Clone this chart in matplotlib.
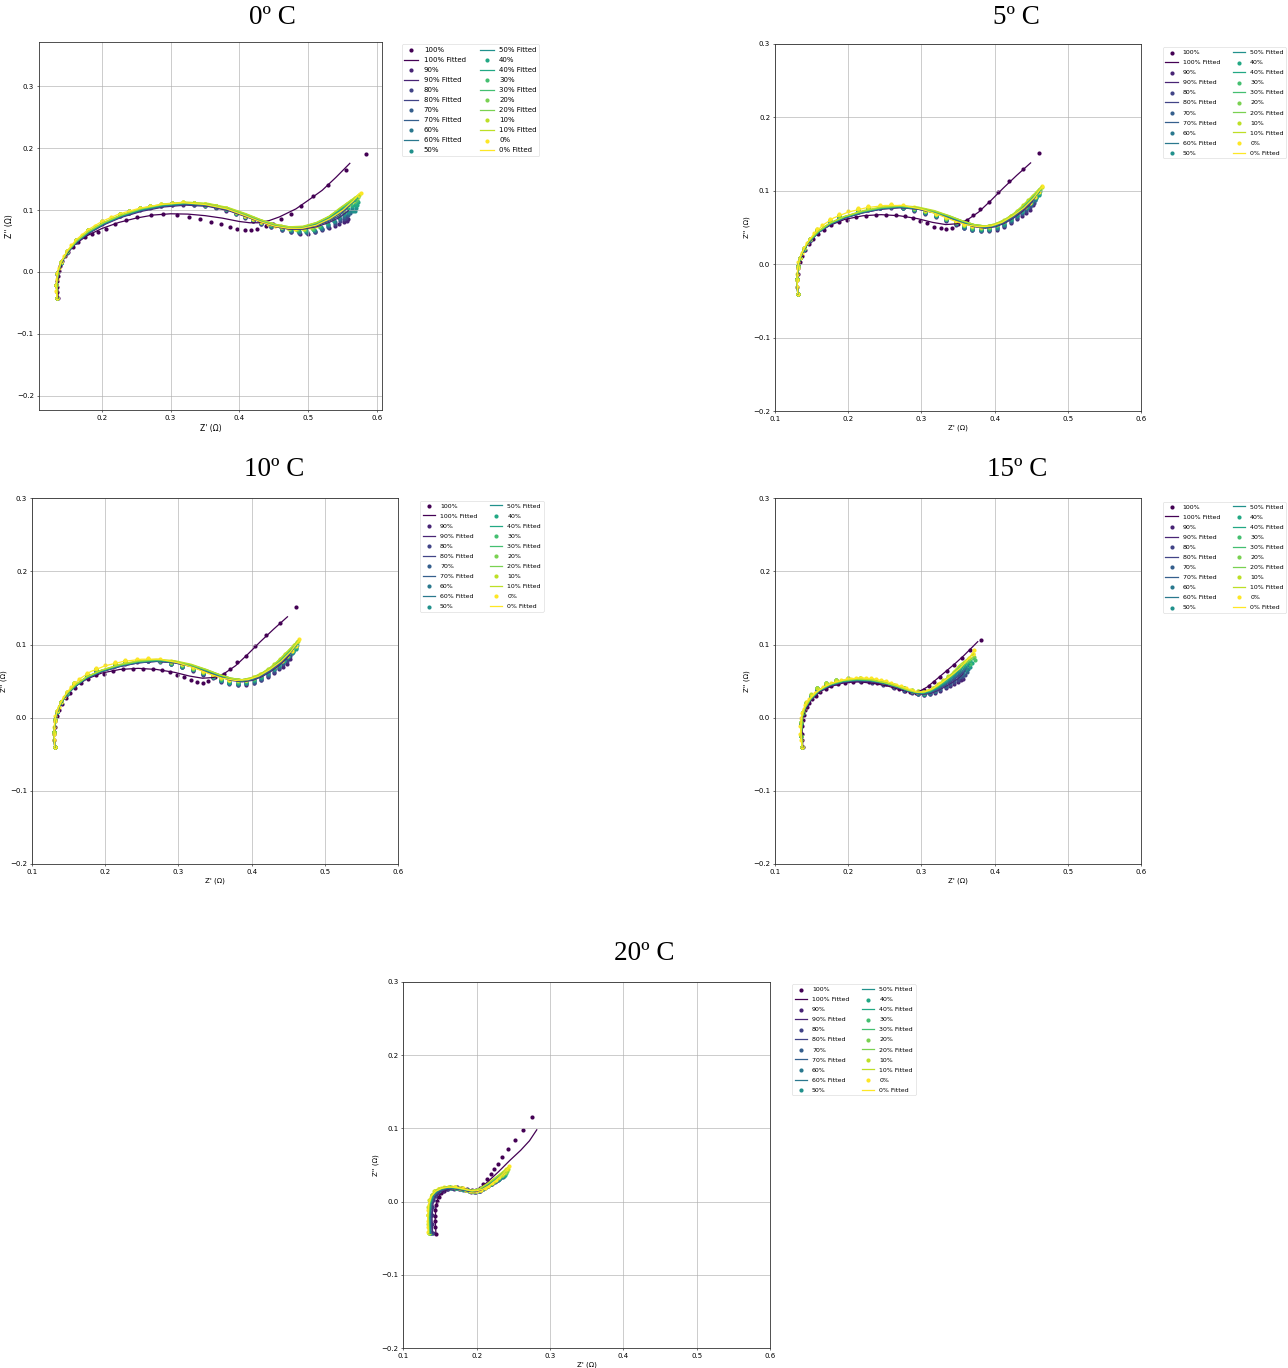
import numpy as np
import matplotlib
matplotlib.use("Agg")
import matplotlib.pyplot as plt
from matplotlib.ticker import MultipleLocator

levels = ["100%", "90%", "80%", "70%", "60%", "50%", "40%", "30%", "20%", "10%", "0%"]

# ---------------- 0 ºC : measured (Z', Z'') points and fitted curves ----------------
d0_100 = [(.137,-.042),(.136,-.033),(.136,-.024),(.136,-.015),(.137,-.007),(.138,.001),(.140,.009),(.143,.017),(.147,.025),(.152,.033),(.158,.041),(.166,.049),(.176,.056),(.186,.061),(.195,.065),(.206,.070),(.220,.0775),(.235,.0835),(.252,.088),(.271,.092),(.289,.093),(.309,.092),(.327,.089),(.343,.086),(.359,.081),(.373,.077),(.386,.073),(.397,.070),(.408,.068),(.417,.068),(.426,.069),(.438,.074),(.448,.078),(.460,.086),(.474,.094),(.489,.107),(.507,.122),(.529,.141),(.555,.164),(.584,.191)]
f0_100 = [(.137,-.042),(.136,-.020),(.138,0),(.142,.015),(.150,.030),(.162,.045),(.178,.058),(.200,.070),(.225,.080),(.250,.087),(.275,.092),(.300,.094),(.325,.0935),(.350,.091),(.375,.087),(.400,.0815),(.415,.0795),(.428,.0795),(.443,.083),(.458,.089),(.482,.102),(.500,.116),(.520,.132),(.540,.153),(.560,.1755)]
d0_90 = [(.135,-.042),(.134,-.021),(.136,-.003),(.141,.014),(.150,.031),(.163,.048),(.180,.064),(.201,.078),(.226,.090),(.240,.095),(.255,.100),(.270,.103),(.286,.106),(.302,.108),(.318,.109),(.334,.108),(.350,.106),(.366,.103),(.381,.099),(.395,.093),(.408,.087),(.420,.082),(.431,.077),(.445,.072),(.461,.067),(.475,.064),(.488,.062),(.499,.062),(.510,.064),(.520,.067),(.530,.071),(.538,.075),(.545,.078),(.551,.080),(.556,.082),(.558,.085)]
f0_90 = [(.136,-.042),(.135,-.020),(.137,0),(.142,.016),(.151,.032),(.164,.048),(.181,.062),(.203,.076),(.228,.088),(.258,.098),(.290,.105),(.322,.108),(.354,.106),(.384,.099),(.410,.089),(.432,.080),(.452,.073),(.472,.069),(.492,.069),(.512,.073),(.530,.080),(.545,.088),(.558,.099)]
d0_80 = [(.135,-.042),(.134,-.021),(.136,-.003),(.141,.014),(.150,.032),(.163,.049),(.180,.065),(.201,.079),(.226,.091),(.240,.096),(.255,.101),(.270,.104),(.286,.107),(.302,.109),(.318,.110),(.334,.109),(.350,.107),(.366,.104),(.381,.100),(.395,.094),(.408,.088),(.420,.083),(.431,.078),(.445,.073),(.461,.068),(.475,.065),(.487,.063),(.498,.063),(.509,.065),(.519,.069),(.529,.073),(.538,.078),(.546,.082),(.551,.085),(.555,.087),(.556,.091)]
f0_80 = [(.136,-.042),(.135,-.020),(.137,0),(.142,.016),(.151,.032),(.164,.048),(.181,.063),(.203,.077),(.228,.089),(.258,.099),(.290,.106),(.322,.109),(.354,.107),(.384,.100),(.410,.090),(.432,.081),(.452,.074),(.472,.070),(.492,.070),(.512,.075),(.530,.082),(.545,.091),(.556,.103)]
d0_70 = [(.135,-.042),(.134,-.021),(.136,-.002),(.141,.015),(.150,.032),(.163,.050),(.180,.066),(.201,.080),(.226,.092),(.240,.097),(.255,.102),(.270,.105),(.286,.108),(.302,.110),(.318,.111),(.334,.110),(.350,.108),(.366,.105),(.381,.101),(.395,.095),(.408,.089),(.420,.084),(.431,.079),(.445,.074),(.461,.069),(.475,.066),(.487,.064),(.498,.064),(.509,.066),(.519,.070),(.529,.075),(.538,.080),(.546,.085),(.552,.089),(.557,.092),(.560,.096)]
f0_70 = [(.136,-.042),(.135,-.020),(.137,0),(.142,.016),(.151,.033),(.164,.049),(.181,.063),(.203,.077),(.228,.089),(.258,.100),(.290,.107),(.322,.110),(.354,.108),(.384,.101),(.410,.091),(.432,.082),(.452,.075),(.472,.071),(.492,.071),(.512,.076),(.530,.084),(.545,.094),(.560,.107)]
d0_60 = [(.135,-.042),(.134,-.021),(.136,-.002),(.141,.015),(.150,.033),(.163,.050),(.180,.066),(.201,.080),(.226,.092),(.240,.097),(.255,.102),(.270,.105),(.286,.108),(.302,.110),(.318,.111),(.334,.110),(.350,.108),(.366,.105),(.381,.101),(.395,.095),(.408,.089),(.420,.084),(.431,.079),(.445,.075),(.461,.070),(.475,.067),(.486,.065),(.497,.065),(.508,.067),(.518,.071),(.528,.076),(.537,.082),(.545,.087),(.552,.092),(.558,.096),(.562,.099),(.563,.103)]
f0_60 = [(.136,-.042),(.135,-.020),(.137,0),(.142,.016),(.151,.033),(.164,.049),(.181,.064),(.203,.078),(.228,.090),(.258,.100),(.290,.107),(.322,.110),(.354,.108),(.384,.101),(.410,.091),(.432,.082),(.452,.075),(.472,.071),(.492,.072),(.512,.077),(.530,.086),(.545,.097),(.563,.111)]
d0_50 = [(.135,-.042),(.134,-.021),(.136,-.002),(.141,.015),(.150,.033),(.163,.051),(.180,.067),(.201,.081),(.226,.093),(.240,.098),(.255,.103),(.270,.106),(.286,.109),(.302,.111),(.318,.112),(.334,.111),(.350,.109),(.366,.106),(.381,.102),(.395,.096),(.408,.090),(.420,.085),(.431,.080),(.445,.075),(.461,.071),(.474,.068),(.486,.066),(.497,.066),(.508,.068),(.518,.072),(.528,.077),(.537,.083),(.545,.088),(.552,.093),(.558,.097),(.564,.099),(.568,.099),(.569,.104)]
f0_50 = [(.136,-.042),(.135,-.020),(.137,0),(.142,.017),(.151,.033),(.164,.049),(.181,.064),(.203,.078),(.228,.090),(.258,.101),(.290,.108),(.322,.111),(.354,.109),(.384,.102),(.410,.092),(.432,.083),(.452,.076),(.472,.072),(.492,.072),(.512,.078),(.530,.087),(.545,.099),(.569,.115)]
d0_40 = [(.135,-.042),(.134,-.021),(.136,-.002),(.141,.016),(.150,.033),(.163,.051),(.180,.067),(.201,.081),(.226,.093),(.240,.098),(.255,.103),(.270,.106),(.286,.109),(.302,.111),(.318,.112),(.334,.111),(.350,.109),(.366,.106),(.381,.102),(.395,.096),(.408,.090),(.420,.085),(.431,.080),(.445,.076),(.460,.072),(.473,.069),(.485,.067),(.496,.067),(.507,.069),(.517,.073),(.527,.079),(.536,.085),(.544,.091),(.551,.097),(.557,.102),(.563,.106),(.568,.108),(.571,.109),(.572,.113)]
f0_40 = [(.136,-.042),(.135,-.020),(.137,.001),(.142,.017),(.151,.034),(.164,.050),(.181,.065),(.203,.079),(.228,.091),(.258,.101),(.290,.108),(.322,.111),(.354,.109),(.384,.102),(.410,.092),(.432,.083),(.452,.076),(.472,.072),(.492,.073),(.512,.079),(.530,.088),(.545,.100),(.572,.119)]
d0_30 = [(.135,-.042),(.134,-.021),(.136,-.002),(.141,.016),(.150,.034),(.163,.051),(.180,.067),(.201,.081),(.226,.093),(.240,.098),(.255,.103),(.270,.106),(.286,.109),(.302,.111),(.318,.112),(.334,.111),(.350,.109),(.366,.106),(.381,.102),(.395,.096),(.408,.091),(.420,.086),(.431,.081),(.445,.077),(.460,.073),(.473,.070),(.484,.068),(.495,.068),(.506,.070),(.516,.075),(.526,.081),(.535,.088),(.543,.094),(.550,.100),(.556,.105),(.562,.110),(.567,.113),(.570,.117)]
f0_30 = [(.136,-.042),(.135,-.020),(.137,.001),(.142,.017),(.151,.034),(.164,.050),(.181,.065),(.203,.079),(.228,.091),(.258,.102),(.290,.109),(.322,.112),(.354,.110),(.384,.103),(.410,.093),(.432,.083),(.452,.076),(.472,.072),(.492,.073),(.512,.079),(.530,.089),(.545,.101),(.571,.121)]
d0_20 = [(.135,-.042),(.134,-.021),(.136,-.002),(.141,.016),(.150,.034),(.163,.052),(.180,.068),(.201,.082),(.226,.094),(.240,.099),(.255,.104),(.270,.107),(.286,.110),(.302,.112),(.318,.113),(.334,.112),(.350,.110),(.366,.107),(.381,.103),(.395,.097),(.408,.091),(.420,.086),(.431,.081),(.445,.077),(.460,.073),(.472,.070),(.483,.069),(.494,.069),(.505,.071),(.515,.076),(.525,.082),(.534,.089),(.542,.096),(.549,.102),(.556,.108),(.562,.113),(.567,.117),(.572,.121)]
f0_20 = [(.136,-.042),(.135,-.020),(.137,.001),(.142,.017),(.151,.034),(.164,.050),(.181,.066),(.203,.080),(.228,.092),(.258,.102),(.290,.109),(.322,.112),(.354,.110),(.384,.103),(.410,.093),(.432,.084),(.452,.077),(.472,.073),(.492,.073),(.512,.080),(.530,.090),(.545,.102),(.573,.124)]
d0_10 = [(.135,-.042),(.134,-.021),(.136,-.002),(.141,.016),(.150,.034),(.163,.052),(.180,.068),(.201,.082),(.226,.094),(.240,.099),(.255,.104),(.270,.107),(.286,.110),(.302,.112),(.318,.113),(.334,.112),(.350,.110),(.366,.107),(.381,.103),(.395,.097),(.408,.092),(.420,.087),(.431,.082),(.445,.078),(.460,.074),(.472,.071),(.482,.0695),(.493,.070),(.504,.072),(.514,.077),(.524,.083),(.533,.090),(.541,.097),(.549,.104),(.556,.110),(.562,.115),(.568,.120),(.574,.125)]
f0_10 = [(.136,-.042),(.135,-.020),(.137,.001),(.142,.017),(.151,.034),(.164,.051),(.181,.066),(.203,.080),(.228,.092),(.258,.103),(.290,.110),(.322,.113),(.354,.111),(.384,.104),(.410,.094),(.432,.084),(.452,.077),(.472,.073),(.492,.074),(.512,.080),(.530,.090),(.545,.103),(.574,.126)]
d0_0 = [(.135,-.042),(.134,-.031),(.134,-.021),(.135,-.011),(.136,-.002),(.138,.007),(.141,.016),(.145,.025),(.150,.034),(.156,.043),(.163,.052),(.171,.060),(.180,.068),(.190,.075),(.201,.082),(.213,.088),(.226,.094),(.240,.099),(.255,.104),(.270,.107),(.286,.110),(.302,.112),(.318,.113),(.334,.112),(.350,.110),(.366,.107),(.381,.103),(.395,.097),(.408,.091),(.420,.086),(.431,.081),(.441,.077),(.451,.074),(.461,.072),(.471,.0705),(.481,.070),(.491,.0705),(.501,.072),(.511,.075),(.521,.080),(.531,.086),(.541,.093),(.550,.100),(.558,.108),(.565,.115),(.571,.121),(.576,.128)]
f0_0 = [(.135,-.042),(.134,-.020),(.136,0),(.141,.016),(.150,.034),(.163,.052),(.180,.068),(.201,.082),(.226,.094),(.255,.103),(.286,.109),(.318,.112),(.350,.109),(.381,.102),(.408,.091),(.431,.081),(.451,.074),(.471,.0705),(.491,.0705),(.511,.0755),(.531,.086),(.550,.100),(.565,.115),(.574,.127)]

# ---------------- 5 ºC (the 10 ºC panel shows the same measurements) ----------------
d5_100 = [(.131,-.040),(.130,-.031),(.130,-.022),(.131,-.013),(.132,-.005),(.134,.003),(.137,.011),(.141,.019),(.146,.027),(.152,.034),(.159,.041),(.167,.047),(.176,.053),(.187,.058),(.198,.060),(.210,.064),(.224,.066),(.238,.067),(.252,.067),(.265,.0665),(.277,.065),(.288,.0625),(.298,.059),(.308,.0555),(.317,.051),(.326,.049),(.334,.048),(.341,.050),(.350,.055),(.362,.060),(.370,.0665),(.380,.0755),(.392,.085),(.404,.098),(.420,.113),(.439,.130),(.460,.151)]
f5_100 = [(.131,-.040),(.130,-.020),(.132,0),(.137,.015),(.146,.030),(.159,.043),(.175,.053),(.195,.061),(.220,.066),(.245,.0675),(.270,.066),(.295,.062),(.315,.057),(.333,.054),(.348,.055),(.362,.060),(.378,.071),(.395,.087),(.412,.104),(.430,.121),(.449,.138)]
d5_90 = [(.131,-.040),(.130,-.020),(.131,-.002),(.134,.008),(.140,.020),(.148,.032),(.158,.044),(.175,.056),(.188,.063),(.2135,.071),(.227,.074),(.243,.076),(.259,.077),(.2745,.076),(.290,.073),(.305,.069),(.320,.064),(.333,.059),(.347,.054),(.358,.049),(.369,.046),(.381,.045),(.392,.045),(.403,.047),(.413,.051),(.422,.056),(.430,.061),(.437,.066),(.443,.070),(.448,.074),(.452,.080)]
f5_90 = [(.131,-.040),(.130,-.020),(.132,0),(.137,.015),(.146,.030),(.159,.043),(.175,.054),(.195,.063),(.220,.070),(.245,.075),(.270,.077),(.295,.075),(.318,.070),(.338,.063),(.356,.056),(.372,.051),(.387,.049),(.401,.051),(.414,.056),(.426,.063),(.437,.071),(.447,.080),(.452,.086)]
d5_80 = [(.131,-.040),(.130,-.020),(.131,-.002),(.134,.008),(.140,.020),(.148,.033),(.158,.045),(.175,.057),(.188,.064),(.2135,.072),(.227,.075),(.243,.077),(.259,.078),(.2745,.077),(.290,.074),(.305,.070),(.320,.065),(.333,.060),(.347,.055),(.358,.050),(.369,.047),(.381,.045),(.392,.046),(.403,.048),(.413,.052),(.422,.057),(.430,.063),(.437,.068),(.443,.073),(.448,.078),(.453,.084)]
f5_80 = [(.131,-.040),(.130,-.020),(.132,0),(.137,.015),(.146,.030),(.159,.043),(.175,.054),(.195,.063),(.220,.070),(.245,.075),(.270,.077),(.295,.075),(.318,.070),(.338,.063),(.356,.057),(.372,.052),(.387,.050),(.401,.052),(.414,.057),(.426,.064),(.437,.073),(.447,.082),(.453,.088)]
d5_70 = [(.131,-.040),(.130,-.020),(.131,-.002),(.134,.008),(.140,.021),(.148,.033),(.158,.045),(.175,.057),(.188,.064),(.2135,.072),(.227,.075),(.243,.077),(.259,.078),(.2745,.077),(.290,.074),(.305,.070),(.320,.065),(.333,.060),(.347,.055),(.358,.050),(.369,.047),(.381,.046),(.392,.047),(.403,.049),(.413,.053),(.422,.059),(.430,.065),(.437,.070),(.443,.075),(.449,.081),(.455,.088)]
f5_70 = [(.131,-.040),(.130,-.020),(.132,0),(.137,.015),(.146,.030),(.159,.043),(.175,.054),(.195,.063),(.220,.071),(.245,.076),(.270,.078),(.295,.076),(.318,.071),(.338,.064),(.356,.057),(.372,.052),(.387,.050),(.401,.052),(.414,.058),(.426,.065),(.437,.074),(.447,.083),(.455,.091)]
d5_60 = [(.131,-.040),(.130,-.020),(.131,-.002),(.134,.008),(.140,.021),(.148,.033),(.158,.046),(.175,.058),(.188,.065),(.2135,.073),(.227,.076),(.243,.077),(.259,.078),(.2745,.077),(.290,.074),(.305,.070),(.320,.066),(.333,.061),(.347,.056),(.358,.051),(.369,.048),(.381,.046),(.392,.047),(.403,.050),(.413,.054),(.422,.060),(.430,.066),(.437,.071),(.444,.077),(.450,.083),(.455,.088),(.457,.091)]
f5_60 = [(.131,-.040),(.130,-.020),(.132,0),(.137,.015),(.146,.030),(.159,.043),(.175,.055),(.195,.064),(.220,.071),(.245,.076),(.270,.078),(.295,.076),(.318,.071),(.338,.064),(.356,.058),(.372,.052),(.387,.050),(.401,.053),(.414,.059),(.426,.066),(.437,.075),(.447,.084),(.457,.094)]
d5_50 = [(.131,-.040),(.130,-.020),(.131,-.002),(.134,.008),(.140,.021),(.148,.034),(.158,.046),(.175,.058),(.188,.065),(.2135,.073),(.227,.076),(.243,.078),(.259,.079),(.2745,.078),(.290,.075),(.305,.071),(.320,.066),(.333,.061),(.347,.056),(.358,.052),(.369,.048),(.381,.047),(.392,.048),(.403,.051),(.413,.055),(.422,.061),(.430,.067),(.437,.072),(.444,.078),(.450,.084),(.456,.090),(.460,.094),(.461,.097)]
f5_50 = [(.131,-.040),(.130,-.020),(.132,0),(.137,.015),(.146,.031),(.159,.044),(.175,.055),(.195,.064),(.220,.071),(.245,.076),(.270,.078),(.295,.076),(.318,.071),(.338,.065),(.356,.058),(.372,.053),(.387,.051),(.401,.053),(.414,.059),(.426,.067),(.437,.076),(.447,.085),(.461,.098)]
d5_40 = [(.131,-.040),(.130,-.020),(.131,-.002),(.134,.008),(.140,.021),(.148,.034),(.158,.046),(.175,.059),(.188,.066),(.2135,.074),(.227,.077),(.243,.078),(.259,.079),(.2745,.078),(.290,.075),(.305,.071),(.320,.067),(.333,.062),(.347,.057),(.358,.052),(.369,.049),(.381,.048),(.392,.049),(.403,.052),(.413,.056),(.422,.062),(.430,.068),(.437,.073),(.444,.079),(.450,.085),(.456,.091),(.460,.096),(.462,.100)]
f5_40 = [(.131,-.040),(.130,-.020),(.132,0),(.137,.015),(.146,.031),(.159,.044),(.175,.055),(.195,.064),(.220,.072),(.245,.077),(.270,.079),(.295,.077),(.318,.072),(.338,.065),(.356,.058),(.372,.053),(.387,.051),(.401,.054),(.414,.060),(.426,.068),(.437,.077),(.447,.086),(.462,.100)]
d5_30 = [(.131,-.040),(.130,-.020),(.131,-.002),(.134,.009),(.140,.022),(.148,.034),(.158,.047),(.175,.059),(.188,.066),(.2135,.074),(.227,.077),(.243,.078),(.259,.079),(.2745,.078),(.290,.075),(.305,.072),(.320,.067),(.333,.062),(.347,.057),(.358,.053),(.369,.050),(.381,.049),(.392,.050),(.403,.053),(.413,.058),(.422,.064),(.430,.070),(.437,.076),(.444,.082),(.450,.088),(.455,.094),(.460,.101)]
f5_30 = [(.131,-.040),(.130,-.020),(.132,0),(.137,.016),(.146,.031),(.159,.044),(.175,.056),(.195,.065),(.220,.072),(.245,.077),(.270,.079),(.295,.077),(.318,.072),(.338,.065),(.356,.059),(.372,.054),(.387,.052),(.401,.054),(.414,.060),(.426,.068),(.437,.077),(.447,.087),(.460,.101)]
d5_20 = [(.131,-.040),(.130,-.020),(.131,-.002),(.134,.009),(.140,.022),(.148,.035),(.158,.047),(.175,.060),(.188,.067),(.2135,.075),(.227,.078),(.243,.079),(.259,.080),(.2745,.079),(.290,.076),(.305,.072),(.320,.068),(.333,.063),(.347,.058),(.358,.054),(.369,.051),(.381,.050),(.392,.051),(.403,.054),(.413,.059),(.422,.065),(.430,.071),(.437,.077),(.444,.083),(.450,.089),(.456,.096),(.462,.103)]
f5_20 = [(.131,-.040),(.130,-.020),(.132,.001),(.137,.016),(.146,.031),(.159,.045),(.175,.056),(.195,.065),(.220,.072),(.245,.077),(.270,.079),(.295,.077),(.318,.072),(.338,.066),(.356,.059),(.372,.054),(.387,.052),(.401,.055),(.414,.061),(.426,.069),(.437,.078),(.447,.088),(.462,.103)]
d5_10 = [(.131,-.040),(.130,-.020),(.131,-.002),(.134,.009),(.140,.022),(.148,.035),(.158,.048),(.175,.060),(.188,.067),(.2135,.075),(.227,.078),(.243,.079),(.259,.080),(.2745,.079),(.290,.076),(.305,.073),(.320,.068),(.333,.063),(.347,.058),(.358,.054),(.369,.052),(.381,.051),(.392,.052),(.403,.055),(.413,.060),(.422,.066),(.431,.073),(.439,.080),(.446,.087),(.452,.093),(.458,.099),(.464,.105)]
f5_10 = [(.131,-.040),(.130,-.020),(.132,.001),(.137,.016),(.146,.032),(.159,.045),(.175,.056),(.195,.065),(.220,.073),(.245,.078),(.270,.080),(.295,.078),(.318,.073),(.338,.066),(.356,.059),(.372,.054),(.387,.052),(.401,.055),(.414,.061),(.426,.069),(.437,.079),(.447,.089),(.464,.106)]
d5_0 = [(.131,-.040),(.130,-.031),(.130,-.022),(.130,-.013),(.131,-.005),(.132,.003),(.134,.009),(.137,.015),(.140,.022),(.144,.0285),(.148,.035),(.153,.042),(.158,.048),(.164,.0535),(.175,.061),(.188,.068),(.200,.0725),(.2135,.076),(.227,.079),(.243,.0805),(.259,.0815),(.2745,.0805),(.290,.0775),(.305,.074),(.320,.069),(.333,.064),(.347,.059),(.358,.055),(.369,.052),(.381,.051),(.392,.052),(.402,.055),(.412,.0595),(.422,.065),(.432,.0705),(.441,.0775),(.448,.084),(.455,.091),(.4605,.0985),(.465,.107)]
f5_0 = [(.131,-.040),(.130,-.020),(.131,-.003),(.135,.012),(.142,.026),(.152,.040),(.165,.053),(.180,.063),(.200,.071),(.225,.077),(.250,.080),(.275,.080),(.300,.075),(.322,.068),(.342,.060),(.360,.054),(.378,.051),(.395,.052),(.410,.057),(.425,.066),(.440,.077),(.453,.090),(.466,.107)]

# ---------------- 15 ºC ----------------
d15_100 = [(.138,-.040),(.137,-.031),(.1365,-.022),(.137,-.012),(.138,-.003),(.1395,.004),(.1415,.010),(.144,.015),(.147,.020),(.151,.025),(.156,.030),(.162,.035),(.169,.039),(.177,.043),(.186,.046),(.196,.048),(.207,.049),(.218,.0495),(.229,.049),(.240,.048),(.251,.0455),(.261,.0425),(.270,.0395),(.278,.037),(.285,.035),(.292,.034),(.298,.035),(.304,.038),(.310,.043),(.317,.049),(.325,.0555),(.335,.0635),(.345,.0715),(.356,.081),(.367,.093),(.381,.106)]
f15_100 = [(.138,-.040),(.137,-.020),(.138,0),(.142,.012),(.150,.025),(.162,.036),(.177,.043),(.195,.048),(.215,.049),(.235,.047),(.255,.043),(.272,.038),(.286,.035),(.297,.036),(.308,.042),(.320,.052),(.333,.063),(.346,.074),(.358,.085),(.368,.095),(.377,.104)]
d15_90 = [(.137,-.040),(.136,-.025),(.136,-.008),(.138,.006),(.142,.018),(.149,.029),(.158,.038),(.170,.044),(.184,.048),(.200,.050),(.216,.050),(.232,.048),(.248,.045),(.263,.041),(.276,.037),(.287,.034),(.296,.032),(.304,.031),(.312,.032),(.319,.034),(.326,.037),(.333,.040),(.339,.043),(.345,.046),(.350,.049),(.354,.051),(.357,.053)]
f15_90 = [(.137,-.040),(.136,-.020),(.137,0),(.141,.013),(.149,.025),(.160,.036),(.175,.043),(.193,.048),(.212,.050),(.231,.049),(.250,.046),(.267,.041),(.281,.036),(.292,.033),(.302,.032),(.312,.033),(.322,.037),(.332,.042),(.342,.048),(.352,.055),(.357,.060)]
d15_80 = [(.137,-.040),(.136,-.025),(.136,-.008),(.138,.006),(.142,.018),(.149,.029),(.158,.038),(.170,.045),(.184,.049),(.200,.051),(.216,.051),(.232,.049),(.248,.046),(.263,.042),(.276,.038),(.287,.035),(.296,.033),(.304,.0315),(.312,.033),(.319,.035),(.326,.038),(.333,.042),(.339,.045),(.345,.049),(.350,.052),(.355,.055),(.360,.058)]
f15_80 = [(.137,-.040),(.136,-.020),(.137,0),(.141,.013),(.149,.025),(.160,.036),(.175,.044),(.193,.049),(.212,.051),(.231,.050),(.250,.047),(.267,.042),(.281,.037),(.292,.034),(.302,.0325),(.312,.034),(.322,.038),(.332,.044),(.342,.050),(.352,.058),(.360,.064)]
d15_70 = [(.137,-.040),(.136,-.025),(.136,-.007),(.138,.007),(.142,.019),(.149,.030),(.158,.039),(.170,.045),(.184,.049),(.200,.051),(.216,.051),(.232,.049),(.248,.046),(.263,.042),(.276,.038),(.287,.035),(.296,.033),(.304,.032),(.312,.034),(.319,.036),(.326,.040),(.333,.044),(.339,.047),(.345,.051),(.351,.055),(.357,.059),(.362,.062)]
f15_70 = [(.137,-.040),(.136,-.020),(.137,0),(.141,.013),(.149,.025),(.160,.036),(.175,.044),(.193,.049),(.212,.051),(.231,.050),(.250,.047),(.267,.042),(.281,.037),(.292,.034),(.302,.033),(.312,.035),(.322,.039),(.332,.045),(.342,.052),(.352,.060),(.362,.067)]
d15_60 = [(.137,-.040),(.136,-.025),(.136,-.007),(.138,.007),(.142,.019),(.149,.030),(.158,.039),(.170,.046),(.184,.050),(.200,.052),(.216,.052),(.232,.050),(.248,.047),(.263,.043),(.276,.039),(.287,.036),(.296,.034),(.304,.0325),(.311,.034),(.318,.037),(.325,.041),(.332,.045),(.339,.049),(.345,.053),(.351,.057),(.357,.061),(.364,.066)]
f15_60 = [(.137,-.040),(.136,-.020),(.137,0),(.141,.013),(.149,.026),(.160,.037),(.175,.045),(.193,.050),(.212,.052),(.231,.051),(.250,.047),(.267,.042),(.281,.037),(.292,.034),(.302,.033),(.312,.035),(.322,.040),(.332,.046),(.342,.054),(.352,.062),(.364,.070)]
d15_50 = [(.137,-.040),(.136,-.025),(.136,-.007),(.138,.007),(.142,.019),(.149,.030),(.158,.040),(.170,.046),(.184,.050),(.200,.052),(.216,.052),(.232,.050),(.248,.047),(.263,.043),(.276,.039),(.287,.036),(.296,.034),(.303,.033),(.310,.035),(.317,.038),(.324,.042),(.331,.046),(.338,.050),(.345,.055),(.352,.060),(.359,.065),(.366,.070)]
f15_50 = [(.137,-.040),(.136,-.020),(.137,0),(.141,.013),(.149,.026),(.160,.037),(.175,.045),(.193,.050),(.212,.052),(.231,.051),(.250,.047),(.267,.042),(.281,.037),(.292,.034),(.302,.034),(.312,.036),(.322,.041),(.332,.047),(.342,.055),(.352,.064),(.366,.073)]
d15_40 = [(.137,-.040),(.136,-.025),(.136,-.007),(.138,.007),(.142,.020),(.149,.031),(.158,.040),(.170,.047),(.184,.051),(.200,.053),(.216,.053),(.232,.051),(.248,.048),(.263,.044),(.276,.040),(.287,.037),(.296,.035),(.303,.0335),(.310,.036),(.317,.039),(.324,.043),(.331,.048),(.338,.053),(.345,.058),(.352,.063),(.359,.068),(.365,.072),(.369,.075)]
f15_40 = [(.137,-.040),(.136,-.020),(.137,0),(.141,.014),(.149,.026),(.160,.037),(.175,.045),(.193,.050),(.212,.052),(.231,.051),(.250,.048),(.267,.043),(.281,.038),(.292,.035),(.302,.034),(.312,.036),(.322,.042),(.332,.049),(.342,.057),(.352,.066),(.369,.077)]
d15_30 = [(.137,-.040),(.136,-.025),(.136,-.006),(.138,.008),(.142,.020),(.149,.031),(.158,.040),(.170,.047),(.184,.051),(.200,.053),(.216,.053),(.232,.051),(.248,.048),(.263,.044),(.276,.040),(.287,.037),(.296,.035),(.303,.034),(.310,.036),(.317,.040),(.324,.044),(.331,.049),(.338,.054),(.345,.059),(.352,.064),(.359,.069),(.366,.074),(.373,.079)]
f15_30 = [(.137,-.040),(.136,-.020),(.137,0),(.141,.014),(.149,.026),(.160,.037),(.175,.045),(.193,.050),(.212,.052),(.231,.051),(.250,.048),(.267,.043),(.281,.038),(.292,.035),(.302,.034),(.312,.037),(.322,.042),(.332,.050),(.342,.058),(.352,.068),(.373,.081)]
d15_20 = [(.137,-.040),(.136,-.025),(.136,-.006),(.138,.008),(.142,.020),(.149,.031),(.158,.041),(.170,.048),(.184,.052),(.200,.054),(.216,.054),(.232,.052),(.248,.049),(.263,.045),(.276,.041),(.287,.038),(.296,.036),(.302,.0345),(.309,.037),(.316,.041),(.323,.045),(.330,.050),(.337,.055),(.344,.061),(.351,.067),(.358,.073),(.365,.078),(.372,.083)]
f15_20 = [(.137,-.040),(.136,-.020),(.137,.001),(.141,.014),(.149,.027),(.160,.038),(.175,.046),(.193,.051),(.212,.053),(.231,.052),(.250,.048),(.267,.043),(.281,.038),(.292,.035),(.302,.035),(.312,.037),(.322,.043),(.332,.051),(.342,.060),(.352,.070),(.372,.083)]
d15_10 = [(.137,-.040),(.136,-.025),(.136,-.006),(.138,.008),(.142,.021),(.149,.032),(.158,.041),(.170,.048),(.184,.052),(.200,.054),(.216,.054),(.232,.052),(.248,.049),(.263,.045),(.276,.041),(.287,.038),(.296,.036),(.302,.035),(.309,.037),(.316,.041),(.323,.046),(.330,.051),(.337,.057),(.344,.063),(.351,.069),(.358,.075),(.365,.081),(.371,.087)]
f15_10 = [(.137,-.040),(.136,-.020),(.137,.001),(.141,.014),(.149,.027),(.160,.038),(.175,.046),(.193,.051),(.212,.053),(.231,.052),(.250,.048),(.267,.043),(.281,.038),(.292,.035),(.302,.035),(.312,.038),(.322,.044),(.332,.052),(.342,.061),(.352,.072),(.371,.087)]
d15_0 = [(.137,-.040),(.135,-.031),(.1347,-.022),(.1347,-.011),(.136,0),(.1375,.006),(.1392,.012),(.1415,.017),(.1437,.021),(.147,.026),(.1505,.030),(.155,.034),(.1595,.038),(.165,.0415),(.1707,.0447),(.177,.047),(.1833,.0493),(.190,.051),(.1977,.0525),(.2045,.0535),(.2113,.0543),(.218,.0545),(.2248,.0543),(.2315,.054),(.2383,.053),(.245,.0515),(.2518,.0498),(.2585,.0475),(.2653,.0452),(.272,.043),(.2788,.0406),(.2845,.0385),(.2887,.037),(.2935,.0355),(.298,.035),(.303,.0355),(.308,.037),(.314,.0395),(.320,.043),(.326,.047),(.332,.0515),(.338,.056),(.344,.061),(.350,.066),(.356,.071),(.361,.0765),(.366,.082),(.370,.087),(.372,.092)]
f15_0 = [(.137,-.040),(.135,-.020),(.136,0),(.139,.012),(.145,.023),(.155,.034),(.168,.043),(.183,.049),(.200,.053),(.218,.0545),(.236,.053),(.254,.049),(.270,.0435),(.284,.0385),(.295,.035),(.305,.0355),(.316,.040),(.328,.048),(.340,.057),(.352,.067),(.362,.078),(.371,.090)]

# ---------------- 20 ºC ----------------
d20_100 = [(.1445,-.044),(.1437,-.034),(.1433,-.026),(.1433,-.019),(.1437,-.012),(.1445,-.005),(.1457,.001),(.148,.007),(.151,.0115),(.155,.015),(.160,.0175),(.166,.019),(.173,.0195),(.180,.019),(.187,.0175),(.193,.0155),(.199,.016),(.204,.019),(.209,.024),(.214,.031),(.219,.038),(.223,.0445),(.229,.0515),(.234,.0615),(.243,.072),(.252,.0845),(.263,.098),(.275,.115)]
f20_100 = [(.1445,-.044),(.1435,-.025),(.1445,-.005),(.148,.007),(.155,.0145),(.165,.018),(.177,.0185),(.188,.0165),(.197,.0145),(.205,.018),(.215,.027),(.230,.041),(.245,.056),(.260,.070),(.272,.083),(.282,.098)]
d20_90 = [(.140,-.043),(.1394,-.030),(.1392,-.018),(.1396,-.007),(.141,.002),(.144,.008),(.148,.012),(.154,.015),(.161,.017),(.169,.0175),(.177,.017),(.185,.0155),(.192,.0135),(.199,.013),(.205,.0145),(.211,.018),(.216,.021),(.221,.024),(.226,.028),(.230,.031)]
f20_90 = [(.140,-.043),(.1392,-.022),(.1405,-.003),(.144,.008),(.150,.0135),(.160,.017),(.170,.0175),(.180,.016),(.190,.014),(.198,.0135),(.206,.016),(.214,.0215),(.222,.028),(.230,.035)]
d20_80 = [(.139,-.043),(.1384,-.030),(.1382,-.018),(.1386,-.007),(.140,.002),(.143,.008),(.147,.0125),(.153,.0155),(.160,.0175),(.168,.018),(.176,.0175),(.184,.016),(.191,.014),(.198,.013),(.204,.0145),(.210,.018),(.215,.021),(.220,.024),(.225,.027),(.229,.030),(.232,.032)]
f20_80 = [(.139,-.043),(.1382,-.022),(.1395,-.003),(.143,.008),(.149,.014),(.159,.0175),(.169,.018),(.179,.0165),(.189,.0145),(.197,.014),(.205,.0165),(.214,.022),(.223,.029),(.232,.036)]
d20_70 = [(.1375,-.043),(.137,-.030),(.1367,-.018),(.137,-.007),(.1385,.002),(.1415,.0085),(.1455,.013),(.151,.016),(.158,.018),(.166,.0185),(.174,.018),(.182,.0165),(.190,.0145),(.197,.0135),(.203,.0145),(.209,.0175),(.214,.021),(.219,.024),(.224,.027),(.229,.030),(.234,.033)]
f20_70 = [(.1375,-.043),(.1367,-.022),(.138,-.003),(.1415,.0085),(.1475,.0145),(.1575,.018),(.1675,.0185),(.1775,.017),(.1875,.015),(.196,.014),(.205,.0165),(.214,.022),(.224,.030),(.234,.037)]
d20_60 = [(.137,-.043),(.1365,-.030),(.1362,-.018),(.1365,-.007),(.138,.002),(.141,.0085),(.145,.013),(.1505,.016),(.157,.018),(.165,.019),(.173,.0185),(.181,.017),(.189,.015),(.196,.014),(.202,.0145),(.208,.017),(.214,.021),(.220,.0245),(.226,.028),(.231,.031),(.236,.034)]
f20_60 = [(.137,-.043),(.1362,-.022),(.1375,-.003),(.141,.0085),(.147,.0145),(.157,.0185),(.167,.019),(.177,.0175),(.187,.0155),(.196,.0145),(.205,.017),(.215,.023),(.226,.031),(.236,.038)]
d20_50 = [(.1365,-.043),(.136,-.030),(.1357,-.018),(.136,-.007),(.1375,.002),(.1405,.009),(.1445,.0135),(.150,.0165),(.1565,.0185),(.164,.019),(.172,.0185),(.180,.017),(.188,.0155),(.195,.014),(.201,.0145),(.207,.017),(.213,.0205),(.219,.024),(.225,.028),(.231,.0315),(.237,.035)]
f20_50 = [(.1365,-.043),(.1357,-.022),(.137,-.003),(.1405,.009),(.1465,.015),(.1565,.019),(.1665,.019),(.1765,.0175),(.1865,.0155),(.195,.0145),(.204,.017),(.215,.0235),(.226,.031),(.237,.039)]
d20_40 = [(.136,-.043),(.1355,-.030),(.1352,-.018),(.1355,-.007),(.137,.002),(.140,.009),(.144,.0135),(.1495,.0165),(.156,.0185),(.1635,.0195),(.1715,.019),(.1795,.0175),(.187,.0155),(.194,.014),(.200,.0145),(.206,.017),(.212,.0205),(.218,.024),(.224,.028),(.230,.032),(.235,.035),(.239,.037)]
f20_40 = [(.136,-.043),(.1352,-.022),(.1365,-.003),(.140,.009),(.146,.015),(.156,.019),(.166,.0195),(.176,.018),(.186,.016),(.195,.0145),(.204,.017),(.215,.024),(.227,.032),(.239,.041)]
d20_30 = [(.1355,-.043),(.135,-.030),(.1347,-.018),(.135,-.007),(.1365,.002),(.1395,.009),(.1435,.014),(.149,.017),(.1555,.019),(.163,.0195),(.171,.019),(.179,.0175),(.187,.0155),(.194,.0142),(.200,.0145),(.206,.017),(.212,.0205),(.218,.0245),(.224,.0285),(.230,.033),(.235,.036),(.240,.039)]
f20_30 = [(.1355,-.043),(.1347,-.022),(.136,-.003),(.1395,.009),(.1455,.0155),(.1555,.0195),(.1655,.0197),(.1755,.018),(.1855,.016),(.194,.0145),(.203,.017),(.215,.024),(.228,.033),(.240,.043)]
d20_20 = [(.135,-.043),(.1345,-.030),(.1342,-.018),(.1345,-.007),(.136,.002),(.139,.009),(.143,.014),(.1485,.017),(.155,.019),(.1625,.020),(.1705,.0195),(.1785,.018),(.186,.016),(.193,.0145),(.199,.0145),(.205,.0165),(.211,.020),(.217,.024),(.223,.028),(.229,.0325),(.234,.036),(.238,.039),(.242,.042)]
f20_20 = [(.135,-.043),(.1342,-.022),(.1355,-.003),(.139,.009),(.145,.0155),(.155,.0195),(.165,.020),(.175,.0185),(.185,.0165),(.194,.015),(.203,.0172),(.215,.0245),(.229,.035),(.242,.045)]
d20_10 = [(.1345,-.043),(.134,-.030),(.1337,-.018),(.134,-.007),(.1355,.002),(.1385,.009),(.1425,.014),(.148,.017),(.1545,.019),(.162,.020),(.170,.0197),(.178,.018),(.186,.016),(.193,.0145),(.199,.0146),(.205,.0165),(.211,.020),(.217,.024),(.223,.0285),(.229,.033),(.234,.037),(.239,.041),(.243,.045)]
f20_10 = [(.1345,-.043),(.1337,-.022),(.135,-.003),(.1385,.009),(.1445,.0155),(.1545,.0195),(.1645,.020),(.1745,.0188),(.1845,.0168),(.194,.015),(.203,.0173),(.215,.025),(.229,.0355),(.243,.047)]
d20_0 = [(.134,-.042),(.1335,-.034),(.1333,-.026),(.1333,-.018),(.1337,-.011),(.1345,-.004),(.136,.002),(.138,.007),(.1405,.011),(.1435,.0145),(.147,.017),(.151,.0185),(.156,.0195),(.161,.020),(.166,.020),(.171,.0195),(.176,.019),(.181,.018),(.186,.0165),(.191,.015),(.196,.0145),(.201,.015),(.206,.0165),(.211,.019),(.216,.022),(.221,.026),(.226,.030),(.231,.034),(.236,.039),(.240,.044),(.2445,.049)]
f20_0 = [(.134,-.042),(.1333,-.022),(.1345,-.004),(.138,.007),(.144,.014),(.152,.018),(.162,.020),(.172,.0195),(.182,.0175),(.192,.015),(.200,.0148),(.208,.017),(.217,.022),(.226,.029),(.235,.037),(.244,.047)]

data_0 = [d0_100, d0_90, d0_80, d0_70, d0_60, d0_50, d0_40, d0_30, d0_20, d0_10, d0_0]
fits_0 = [f0_100, f0_90, f0_80, f0_70, f0_60, f0_50, f0_40, f0_30, f0_20, f0_10, f0_0]
data_5 = [d5_100, d5_90, d5_80, d5_70, d5_60, d5_50, d5_40, d5_30, d5_20, d5_10, d5_0]
fits_5 = [f5_100, f5_90, f5_80, f5_70, f5_60, f5_50, f5_40, f5_30, f5_20, f5_10, f5_0]
data_15 = [d15_100, d15_90, d15_80, d15_70, d15_60, d15_50, d15_40, d15_30, d15_20, d15_10, d15_0]
fits_15 = [f15_100, f15_90, f15_80, f15_70, f15_60, f15_50, f15_40, f15_30, f15_20, f15_10, f15_0]
data_20 = [d20_100, d20_90, d20_80, d20_70, d20_60, d20_50, d20_40, d20_30, d20_20, d20_10, d20_0]
fits_20 = [f20_100, f20_90, f20_80, f20_70, f20_60, f20_50, f20_40, f20_30, f20_20, f20_10, f20_0]

W, H = 1288, 1368
fig = plt.figure(figsize=(W / 100, H / 100), dpi=100)
colors = plt.cm.viridis(np.linspace(0, 1, len(levels)))


def rect(left, top, right, bottom):
    return [left / W, 1 - bottom / H, (right - left) / W, (bottom - top) / H]


# legend text size / row spacing, axis-label size for each panel
style_0 = dict(leg_fs=5.0, leg_ls=0.58, lab_fs=5.5)
style_n = dict(leg_fs=4.5, leg_ls=0.75, lab_fs=5.0)

panels = [
    ("0º C", data_0, fits_0, (38.7, 41.7, 382, 410), (0.1088, 0.6067), (-0.2232, 0.3722), (401.6, 44.3), (272, 17), style_0),
    ("5º C", data_5, fits_5, (775, 44, 1141.2, 411), (0.1, 0.6), (-0.2, 0.3), (1162.8, 47.3), (1016, 17), style_n),
    ("10º C", data_5, fits_5, (32, 498.3, 398, 864), (0.1, 0.6), (-0.2, 0.3), (420, 500.7), (274, 470), style_n),
    ("15º C", data_15, fits_15, (775, 498.3, 1141, 864), (0.1, 0.6), (-0.2, 0.3), (1162.8, 501.7), (1017, 470), style_n),
    ("20º C", data_20, fits_20, (403.3, 981.7, 770, 1348.3), (0.1, 0.6), (-0.2, 0.3), (792, 984.3), (644, 954), style_n),
]

for title, data, fits, box, xlim, ylim, leg_xy, title_xy, st in panels:
    ax = fig.add_axes(rect(*box))
    for lab, col, d, f in zip(levels, colors, data, fits):
        d = np.asarray(d)
        f = np.asarray(f)
        ax.scatter(d[:, 0], d[:, 1], s=9, color=col, linewidths=0, label=lab)
        ax.plot(f[:, 0], f[:, 1], color=col, lw=0.9, label=f"{lab} Fitted")
    ax.set_xlim(*xlim)
    ax.set_ylim(*ylim)
    ax.xaxis.set_major_locator(MultipleLocator(0.1))
    ax.yaxis.set_major_locator(MultipleLocator(0.1))
    ax.grid(True, color="#b0b0b0", lw=0.45)
    ax.set_xlabel("Z' (Ω)", fontsize=st["lab_fs"], labelpad=2)
    ax.set_ylabel("Z'' (Ω)", fontsize=st["lab_fs"], labelpad=2)
    ax.tick_params(labelsize=5, length=1.75, width=0.4, pad=1.75)
    for sp in ax.spines.values():
        sp.set_linewidth(0.6)
        sp.set_color("#333333")
    leg = ax.legend(ncol=2, loc="upper left", bbox_to_anchor=(leg_xy[0] / W, 1 - leg_xy[1] / H),
                    bbox_transform=fig.transFigure, borderaxespad=0,
                    fontsize=st["leg_fs"], labelspacing=st["leg_ls"])
    leg.get_frame().set_linewidth(0.4)
    fig.text(title_xy[0] / W, 1 - title_xy[1] / H, title, family="Liberation Serif",
             fontsize=19.5, ha="center", va="center")

fig.savefig("out.png", dpi=100)
